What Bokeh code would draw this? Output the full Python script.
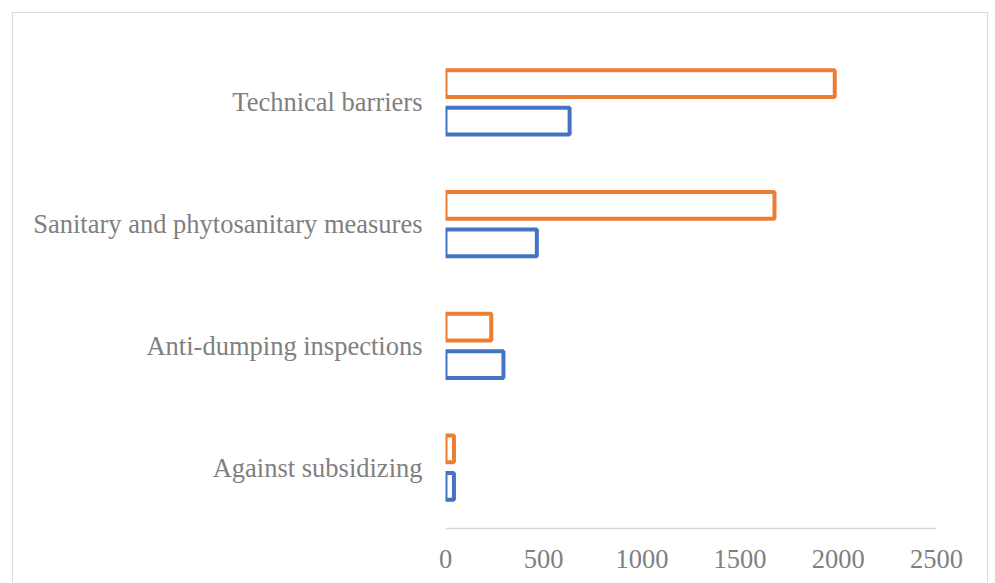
from bokeh.plotting import figure
from bokeh.models import ColumnDataSource, FactorRange, FixedTicker
from bokeh.transform import dodge
from bokeh.embed import file_html
from bokeh.resources import INLINE

# Trade-barrier categories, bottom to top
categories = [
    "Against subsidizing",
    "Anti-dumping inspections",
    "Sanitary and phytosanitary measures",
    "Technical barriers",
]
# Two series per category (upper bar orange, lower bar blue)
orange_values = [43, 233, 1675, 1982]
blue_values = [43, 295, 465, 632]
x_ticks = [0, 500, 1000, 1500, 2000, 2500]

FONT = "Liberation Serif"
TEXT_GRAY = "#808080"
BORDER_GRAY = "#d9d9d9"

source = ColumnDataSource(dict(cat=categories, orange=orange_values, blue=blue_values))

# Chart area sits 12px in from the page corner, with a thin light-gray border
OFFSET = 13
W, H = 976, 570
FRAME_LEFT, FRAME_RIGHT, FRAME_TOP, FRAME_BOTTOM = 445 - OFFSET, 936 - OFFSET, 41 - OFFSET, 528 - OFFSET

p = figure(
    width=W, height=H,
    y_range=FactorRange(factors=categories),
    x_range=(0, 2500),
    output_backend="svg",
    toolbar_location=None,
    min_border_left=FRAME_LEFT,
    min_border_right=W - FRAME_RIGHT,
    min_border_top=FRAME_TOP,
    min_border_bottom=H - FRAME_BOTTOM,
    background_fill_color="white",
    border_fill_color="white",
    outline_line_color=None,
    margin=(12, 0, 0, 12),
    styles={
        "border-top": f"1px solid {BORDER_GRAY}",
        "border-left": f"1px solid {BORDER_GRAY}",
        "border-right": f"1px solid {BORDER_GRAY}",
    },
)

bar_h = 0.219
off = 0.154
p.hbar(y=dodge("cat", -off, range=p.y_range), left=0, right="blue", height=bar_h,
       source=source, fill_color="white", line_color="#4472C4", line_width=4)
p.hbar(y=dodge("cat", off, range=p.y_range), left=0, right="orange", height=bar_h,
       source=source, fill_color="white", line_color="#ED7D31", line_width=4)

p.xgrid.grid_line_color = None
p.ygrid.grid_line_color = None

# Category axis: labels only
p.yaxis.axis_line_color = None
p.yaxis.major_tick_line_color = None
p.yaxis.minor_tick_line_color = None
p.yaxis.major_tick_out = 0
p.yaxis.major_label_standoff = 23
p.yaxis.major_label_text_font = FONT
p.yaxis.major_label_text_font_size = "26.5px"
p.yaxis.major_label_text_color = TEXT_GRAY

# Value axis
p.xaxis.ticker = FixedTicker(ticks=x_ticks)
p.xaxis.axis_line_color = BORDER_GRAY
p.xaxis.axis_line_width = 1.5
p.xaxis.major_tick_line_color = None
p.xaxis.minor_tick_line_color = None
p.xaxis.major_tick_out = 0
p.xaxis.major_label_standoff = 21
p.xaxis.major_label_text_font = FONT
p.xaxis.major_label_text_font_size = "26.5px"
p.xaxis.major_label_text_color = TEXT_GRAY

open("out.html", "w").write(file_html(p, INLINE))
